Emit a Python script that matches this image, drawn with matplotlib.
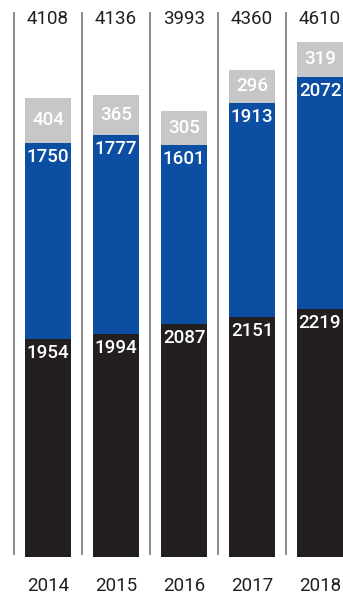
import matplotlib
matplotlib.use("Agg")
import matplotlib.pyplot as plt

years = ["2014", "2015", "2016", "2017", "2018"]
bottom_vals = [1954, 1994, 2087, 2151, 2219]
middle_vals = [1750, 1777, 1601, 1913, 2072]
top_vals = [404, 365, 305, 296, 319]
totals = [4108, 4136, 3993, 4360, 4610]

c_black = "#231f20"
c_blue = "#0b4ea2"
c_gray = "#c6c7c9"

plt.rcParams["font.family"] = ["Roboto", "DejaVu Sans"]

fig = plt.figure(figsize=(3.43, 5.94), dpi=100)
ax = fig.add_axes([0, 0, 1, 1])
ax.set_xlim(-0.706, 4.338)
ax.set_ylim(-330, 4982)
ax.axis("off")

x = list(range(len(years)))
w = 0.676
ax.bar(x, bottom_vals, width=w, color=c_black)
mid_base = bottom_vals
ax.bar(x, middle_vals, width=w, bottom=mid_base, color=c_blue)
top_base = [b + m for b, m in zip(bottom_vals, middle_vals)]
ax.bar(x, top_vals, width=w, bottom=top_base, color=c_gray)

# separators
ax.vlines([i - 0.5 for i in x], 18, 4875, color="#8a8a8a", lw=1.4)

off = 125
for i in x:
    ax.text(i, bottom_vals[i] - off, str(bottom_vals[i]), color="white",
            ha="center", va="center", fontsize=13.5, fontweight="medium")
    ax.text(i, top_base[i] - off, str(middle_vals[i]), color="white",
            ha="center", va="center", fontsize=13.5, fontweight="medium")
    ax.text(i, top_base[i] + top_vals[i] / 2, str(top_vals[i]), color="white",
            ha="center", va="center", fontsize=13.5, fontweight="medium")
    ax.text(i, 4812, str(totals[i]), color="#231f20",
            ha="center", va="center", fontsize=13.5)
    ax.text(i, -255, years[i], color="#231f20",
            ha="center", va="center", fontsize=13.5)

fig.savefig("out.png", dpi=100)
